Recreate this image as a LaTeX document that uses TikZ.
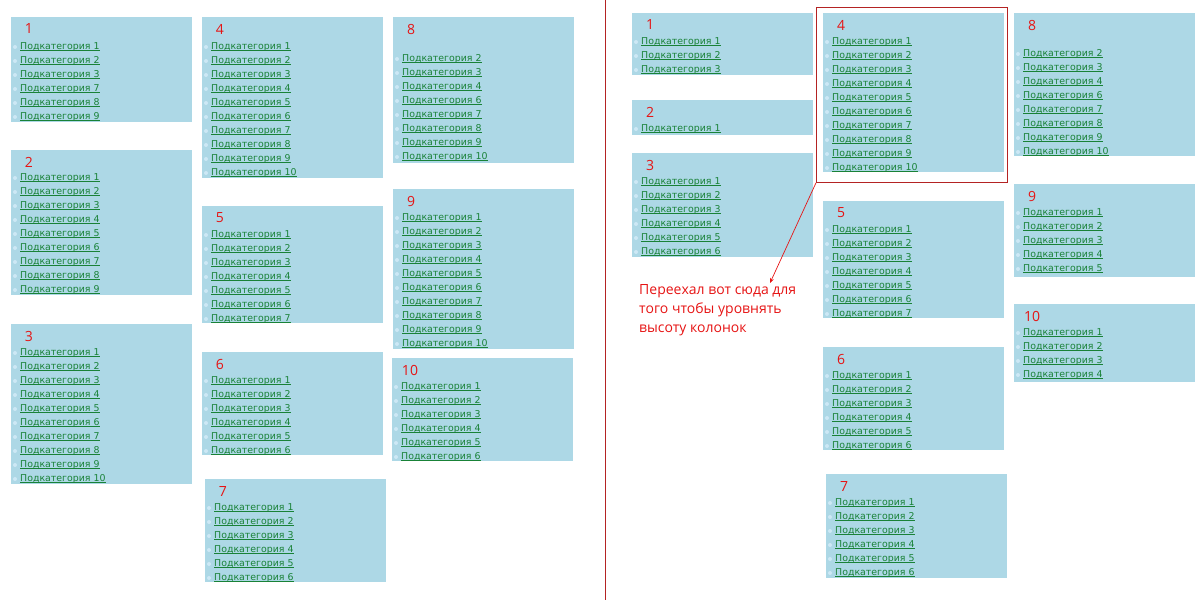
\documentclass[tikz,border=0pt]{standalone}
\usepackage{fontspec}
\setmainfont{DejaVu Sans}
\newfontfamily\notefont{Open Sans}
\usepackage{tikz}
\usetikzlibrary{arrows.meta}
\definecolor{boxblue}{RGB}{173,216,230}
\definecolor{dotblue}{RGB}{205,232,245}
\definecolor{linkgreen}{RGB}{25,130,55}
\definecolor{markred}{RGB}{230,20,20}
\definecolor{lineredd}{RGB}{180,35,35}

\tikzset{
  catbg/.style={fill=boxblue, draw=none, inner sep=0pt, outer sep=0pt,
    minimum width=181pt, anchor=north west},
  catnum/.style={text=markred, font=\notefont\fontsize{14}{14}\selectfont, inner sep=0pt},
  catitem/.style={text=linkgreen, font=\fontsize{9.4}{10}\selectfont, inner sep=0pt, anchor=west},
  catdot/.style={fill=dotblue, draw=none},
  selframe/.style={draw=lineredd, line width=0.8pt, inner sep=0pt, anchor=north west},
  divider/.style={draw=lineredd, line width=1pt}
}

% underline close to the baseline
\newcommand{\linkul}[1]{\setbox0\hbox{#1}\rlap{\rule[-1.3pt]{\wd0}{0.6pt}}\box0}

% #1 name, #2 x, #3 y, #4 height, #5 number, #6 first item offset, #7 items
\newcommand{\catbox}[7]{%
  \node[catbg, minimum height=#4pt] (#1) at (#2,#3) {};
  \node[catnum] (#1num) at (#2+18,#3+12) {#5};
  \foreach \k [count=\i from 0] in {#7}{
    \fill[catdot] (#2+4,#3+#6+14*\i+2) circle (2);
    \node[catitem] (#1item\k) at (#2+9,#3+#6+14*\i+2) {\linkul{Подкатегория \k}};
  }
}

\begin{document}
\begin{tikzpicture}[x=1pt, y=-1pt]
  \useasboundingbox (0,0) rectangle (1200,600);

  % before
  \catbox{la}{11}{17}{105}{1}{28}{1,2,3,7,8,9}
  \catbox{lb}{11}{150}{145}{2}{26}{1,2,3,4,5,6,7,8,9}
  \catbox{lc}{11}{324}{160}{3}{27}{1,2,3,4,5,6,7,8,9,10}
  \catbox{ld}{202}{17}{161}{4}{28}{1,2,3,4,5,6,7,8,9,10}
  \catbox{le}{202}{206}{117}{5}{27}{1,2,3,4,5,6,7}
  \catbox{lf}{202}{352}{103}{6}{27}{1,2,3,4,5,6}
  \catbox{lg}{205}{479}{103}{7}{27}{1,2,3,4,5,6}
  \catbox{lh}{393}{17}{146}{8}{40}{2,3,4,6,7,8,9,10}
  \catbox{li}{393}{189}{160}{9}{27}{1,2,3,4,5,6,7,8,9,10}
  \catbox{lj}{392}{358}{103}{10}{27}{1,2,3,4,5,6}

  \coordinate (divtop) at (605,0);
  \coordinate (divbot) at (605,600);
  \draw[divider] (divtop) -- (divbot);

  % after
  \catbox{ra}{632}{13}{62}{1}{27}{1,2,3}
  \catbox{rb}{632}{100}{35}{2}{27}{1}
  \catbox{rc}{632}{153}{104}{3}{27}{1,2,3,4,5,6}
  \catbox{rd}{823}{13}{159}{4}{27}{1,2,3,4,5,6,7,8,9,10}
  \catbox{re}{823}{201}{117}{5}{27}{1,2,3,4,5,6,7}
  \catbox{rf}{823}{347}{103}{6}{27}{1,2,3,4,5,6}
  \catbox{rg}{826}{474}{104}{7}{27}{1,2,3,4,5,6}
  \catbox{rh}{1014}{13}{143}{8}{39}{2,3,4,6,7,8,9,10}
  \catbox{ri}{1014}{184}{93}{9}{27}{1,2,3,4,5}
  \catbox{rj}{1014}{304}{78}{10}{27}{1,2,3,4}

  \node[selframe, minimum width=191pt, minimum height=175pt] (sel) at (816,7) {};
  \node[anchor=north west, align=left, text=markred, inner sep=0pt,
    font=\notefont\fontsize{14}{19}\selectfont] (note) at (639,284)
    {Переехал вот сюда для\\того чтобы уровнять\\высоту колонок};
  \coordinate (tip) at (770,283);
  \draw[-{Stealth[length=5pt,width=4pt]}, draw=markred, line width=0.7pt] (sel.south west) -- (tip);
\end{tikzpicture}
\end{document}
